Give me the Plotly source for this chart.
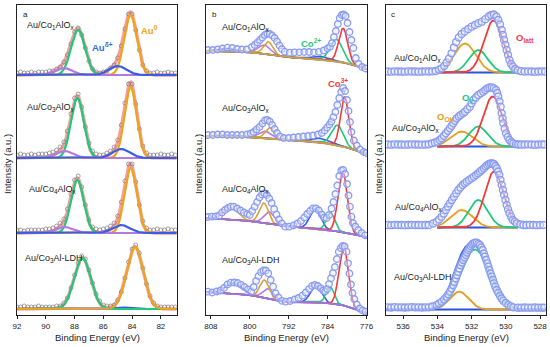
import numpy as np
import plotly.graph_objects as go

FONT = "Arial, Liberation Sans, sans-serif"
W, H = 550, 347

# ---------------- colours ----------------
GREEN, ORANGE, BLUE, PURPLE = "#1fc97c", "#eea41a", "#3a5de6", "#b57ae2"
SALMON, RED = "#f5a0a0", "#f23c3c"
MK_EDGE, MK_FILL = "#8a9bf2", "rgba(230,234,255,0.45)"

# ================= Panel a : Au 4f =================
A_LABELS = ["Au/Co<sub>1</sub>AlO<sub>x</sub>", "Au/Co<sub>3</sub>AlO<sub>x</sub>",
            "Au/Co<sub>4</sub>AlO<sub>x</sub>", "Au/Co<sub>3</sub>Al-LDH"]
A_OFFSET = [240, 157, 82, 6]
A_E = np.round(np.arange(92.0, 80.99, -0.25), 2)
A_MEAS_1 = [2,3,2,2,3,2,3,3,3,4,4,6,8,13,20,31,43,47,40,27,14,6,3,2,3,4,7,10,17,29,46,61,61,45,25,10,4,2,2,3,2,2,3,2,2]
A_MEAS_2 = [3,4,3,3,4,3,4,4,4,5,6,8,11,16,27,44,60,64,51,31,15,7,4,3,3,5,7,11,18,33,55,74,74,54,29,12,5,3,3,3,4,3,3,4,3]
A_MEAS_3 = [3,3,2,3,3,3,3,3,4,4,5,7,10,14,24,39,53,57,46,28,13,6,4,3,4,5,7,10,17,31,52,69,69,51,28,12,5,3,3,4,3,3,4,3,3]
A_MEAS_4 = [2,2,3,2,2,2,3,2,2,2,2,3,3,6,11,21,34,46,53,50,39,26,15,8,4,3,3,4,9,17,31,47,60,64,56,41,25,13,6,3,2,2,2,2,2]
A_MEAS = [A_MEAS_1, A_MEAS_2, A_MEAS_3, A_MEAS_4]
# fitted peaks (centre eV, height, FWHM eV)
A_AU0_72_C, A_AU0_72_H, A_AU0_72_W = [84.1, 84.1, 84.1, 83.8], [60, 71, 65, 62], [1.05, 1.0, 1.0, 1.35]
A_AU0_52_C, A_AU0_52_H, A_AU0_52_W = [87.75, 87.8, 87.8, 87.45], [45, 60, 53, 51], [1.15, 1.05, 1.05, 1.35]
A_AUD_72_C, A_AUD_72_H, A_AUD_72_W = [85.0, 84.75, 84.75, 84.8], [9, 9, 8, 1.5], [1.4, 1.4, 1.4, 1.5]
A_AUD_52_C, A_AUD_52_H, A_AUD_52_W = [88.75, 88.7, 88.7, 88.5], [7, 7, 6, 1], [1.4, 1.4, 1.4, 1.5]

# ================= Panel b : Co 2p =================
B_OFFSET = [265, 180, 98, 23]
B_E_1 = [808.6,807.6,806.6,805.6,804.6,803.6,802.6,801.6,800.6,799.6,799.0,798.4,797.9,797.4,796.9,796.4,795.9,795.4,794.9,794.4,
         793.9,793.4,792.8,791.8,790.8,789.8,788.8,787.8,786.8,785.8,784.8,784.0,783.5,783.1,782.7,782.3,781.9,781.5,781.1,780.7,
         780.3,779.9,779.5,779.1,778.7,778.2,777.6,776.9,776.2]
B_I_1 = [0,0,0.5,1.5,2.3,2,1,0.5,0.5,3,5,7.5,10,12.5,15,16.5,16,14.5,12,8.5,
         4.5,1,-1.7,-2.7,-2.3,-2.3,-2,-2,-2.3,-1.8,-0.5,1.5,3.3,7,13,19,26,32,35,35.5,
         34,27,18,10,2,-8,-14,-17,-18.5]
B_E_2 = [808.6,807.6,806.6,805.6,804.6,803.6,802.6,801.6,800.6,799.8,799.2,798.6,798.0,797.4,796.9,796.4,795.9,795.4,794.9,
         794.4,793.8,793.0,792.0,791.0,790.0,789.0,788.0,787.0,786.0,785.2,784.6,784.1,783.6,783.2,782.8,782.4,782.0,781.6,781.2,
         780.8,780.4,780.0,779.7,779.4,779.1,778.6,778.0,777.3,776.6,776.0]
B_I_2 = [0,0,0.5,0.5,0,0,0,0,0.5,1.5,3,5.5,8,11.5,14.5,15,13.5,10,6,
         2,-1.5,-3,-3,-2.5,-2,-1.5,-1,-0.5,0.5,2,4.5,7.5,10.5,13.5,18,23,30,37,43,
         47,44,35,24,13,3,-5.5,-10.5,-14.5,-17,-18]
B_E_3 = [808.6,807.8,807.0,806.3,805.7,805.1,804.5,803.9,803.3,802.6,801.9,801.2,800.5,800.0,799.5,799.0,798.5,798.0,797.5,797.0,
         796.5,796.0,795.5,795.0,794.5,794.0,793.4,792.7,791.9,791.0,790.2,789.5,788.8,788.2,787.6,787.0,786.4,785.8,785.2,784.7,
         784.2,783.7,783.2,782.8,782.4,782.0,781.6,781.2,780.8,780.4,780.0,779.7,779.4,779.1,778.8,778.3,777.7,777.0,776.3]
B_I_3 = [0,0.3,0.7,1.5,4.5,7,9,10.3,10.3,8.5,6.5,4.5,3,2,6,10.3,15,19.5,22.5,23.7,
         22,18.5,14,8,2.5,-2.5,-6.5,-9.7,-9.7,-8.5,-6.5,-4,-0.5,3,6,8.7,8.7,6.5,2.5,-0.5,
         -1,2,8.5,15,23,31.5,41,46.5,47,43,33,21.5,10.3,0.3,-6,-9.5,-13,-16,-18.3]
B_E_4 = [808.6,807.7,806.8,806.0,805.3,804.6,803.9,803.2,802.5,801.8,801.1,800.4,799.7,799.2,798.7,798.2,797.7,797.2,796.7,796.2,
         795.7,795.2,794.7,794.1,793.4,792.6,791.7,790.8,790.0,789.2,788.5,787.8,787.2,786.6,786.0,785.4,784.9,784.5,784.1,783.7,
         783.3,782.9,782.5,782.1,781.7,781.3,780.9,780.5,780.1,779.8,779.5,779.2,778.9,778.5,778.0,777.4,776.8,776.2]
B_I_4 = [0.3,-0.5,0.5,1.5,4,7.5,9.3,9.5,9,7.2,5,2.5,0.5,5,11,16,19.8,21.5,21.5,18.7,
         12,5.3,-1.3,-5.5,-8.8,-9.7,-9,-7.5,-6,-3.7,-0.5,3,6,7,6,3.7,1.5,0.5,3,8,
         13.7,19,25,33,40.3,44,46,45.5,40.3,28.7,18.5,7.5,-1,-7,-12.5,-16.5,-18.5,-19.7]
B_E = [B_E_1, B_E_2, B_E_3, B_E_4]
B_I = [B_I_1, B_I_2, B_I_3, B_I_4]
B_BG_E = [809, 800, 793, 786, 781, 775.9]
B_BG_1 = [-1, -2, -7, -9, -12, -19]
B_BG_2 = [-1, -2, -5, -7, -11, -19]
B_BG_3 = [-1, -4, -9, -12, -15, -20]
B_BG_4 = [0, -3, -10, -10, -13, -21]
B_BG = [B_BG_1, B_BG_2, B_BG_3, B_BG_4]
B_CO3_32_C, B_CO3_32_H, B_CO3_32_W = [780.8, 780.5, 780.9, 780.7], [34, 50, 61, 60], [2.2, 2.0, 2.2, 2.2]
B_CO2_32_C, B_CO2_32_H, B_CO2_32_W = [782.2, 782.0, 783.4, 783.5], [22, 20, 18, 17], [3.0, 2.8, 2.0, 1.9]
B_SAT1_C, B_SAT1_H, B_SAT1_W = [785.5, 785.5, 786.5, 786.4], [3, 4, 20, 16], [4, 4, 2.6, 2.6]
B_CO3_12_C, B_CO3_12_H, B_CO3_12_W = [796.2, 795.9, 797.1, 797.0], [13, 11, 20, 18], [2.3, 2.2, 2.2, 2.2]
B_CO2_12_C, B_CO2_12_H, B_CO2_12_W = [797.0, 796.8, 796.0, 796.2], [9, 7, 12, 10], [3.0, 3.0, 2.6, 2.6]
B_SAT2_C, B_SAT2_H, B_SAT2_W = [804.6, 804.5, 803.9, 803.3], [3, 1.5, 12, 11], [4, 4, 3.5, 3.8]

# ================= Panel c : O 1s =================
C_OFFSET = [242.5, 168.5, 87.5, 5.5]
C_E_1 = [536.9,536.7,536.5,536.3,536.1,535.9,535.7,535.5,535.3,535.1,534.9,534.7,534.5,534.3,534.1,533.9,533.75,533.6,533.46,533.32,
         533.17,533.03,532.9,532.75,532.58,532.4,532.2,532.0,531.8,531.6,531.4,531.2,531.0,530.85,530.7,530.55,530.44,530.34,530.24,530.17,
         530.1,530.02,529.95,529.87,529.79,529.69,529.58,529.45,529.3,529.1,528.9,528.7,528.5,528.3,528.1,527.9,527.7]
C_I_1 = [1,0.8,1.2,1,1,0.8,1.2,1,1,0.8,1,1.2,1,1.2,1.5,2.8,4.2,6.5,10,14,
         19.2,25,30.5,35,38.5,41,43.5,45.8,47.5,49.3,50.8,53.3,56,57.5,58,56,52.5,48,42.5,37.5,
         32.5,27.5,22.5,17.5,12.5,8.5,5.8,3.5,2.2,1.3,1,1.2,1,0.8,1,1.2,1]
C_E_2 = [536.9,536.7,536.5,536.3,536.1,535.9,535.7,535.5,535.3,535.1,534.9,534.7,534.5,534.32,534.15,534.0,533.87,533.75,533.62,533.5,
         533.38,533.27,533.17,533.07,532.97,532.87,532.75,532.64,532.5,532.39,532.25,532.1,532.0,531.9,531.75,531.61,531.46,531.32,531.2,531.08,
         530.95,530.82,530.7,530.57,530.5,530.44,530.37,530.3,530.24,530.19,530.15,530.07,529.99,529.89,529.79,529.67,529.56,529.4,529.27,529.1,
         528.9,528.7,528.5,528.3,528.1,527.9,527.75]
C_I_2 = [2,1.8,2.2,2,2,1.8,2,2.2,2,2,1.8,2,2.2,3.2,4,4.8,6.5,8.2,10.7,13.2,
         15.7,18.2,20.7,23.2,25.7,28.2,30,31.5,33.2,34.8,37.3,39.8,43.2,46.5,49,51.5,53.2,54.8,56.5,58.2,
         59,59.2,58.2,56.5,53.5,49.8,45,39.8,33.2,28,23.2,18,13.2,9.5,6.5,4.5,3.2,2.3,2,2,
         2,2.2,2,1.8,2,2.2,2]
C_E_3 = [536.9,536.7,536.5,536.3,536.1,535.9,535.7,535.5,535.3,535.1,534.9,534.7,534.5,534.25,534.04,533.9,533.75,533.62,533.5,533.38,
         533.27,533.15,533.03,532.9,532.78,532.65,532.52,532.4,532.29,532.15,532.0,531.87,531.74,531.62,531.51,531.4,531.28,531.18,531.08,530.98,
         530.88,530.78,530.69,530.61,530.53,530.45,530.38,530.31,530.24,530.17,530.1,530.02,529.95,529.87,529.79,529.69,529.59,529.47,529.36,529.15,
         528.97,528.8,528.6,528.4,528.2,528.0,527.8]
C_I_3 = [2.5,2.3,2.7,2.5,2.5,2.3,2.5,2.7,2.5,2.5,2.3,2.5,2.5,4,5.8,8,10.8,14,17.5,21,
         24.2,27.5,30.8,34.2,37.5,40,42.5,44.2,45.8,47.5,49.2,50.8,52.5,54.2,55.8,57.5,59.2,61,62.5,63.5,
         64.2,64,63.5,61.5,59.2,56,52.5,47.5,42.5,37.5,32.5,27.5,22.5,18.3,14.2,10.8,7.5,5.8,4.2,3.2,
         2.5,2.5,2.7,2.5,2.3,2.5,2.5]
C_E_4 = [536.9,536.7,536.5,536.3,536.1,535.9,535.7,535.5,535.3,535.1,534.9,534.7,534.5,534.3,534.04,533.9,533.75,533.6,533.46,533.36,
         533.27,533.17,533.07,532.99,532.91,532.85,532.78,532.71,532.64,532.56,532.49,532.41,532.33,532.26,532.19,532.12,532.05,531.97,531.9,531.8,
         531.7,531.6,531.51,531.43,531.35,531.28,531.22,531.15,531.08,531.02,530.96,530.89,530.82,530.75,530.69,530.61,530.53,530.44,530.34,530.25,
         530.15,530.0,529.85,529.7,529.56,529.3,529.1,528.9,528.7,528.5,528.3,528.1,527.9,527.75]
C_I_4 = [2.2,2,2.4,2.2,2.2,2,2.2,2.4,2.2,2.2,2,2.2,2.2,3,4.5,6,7.8,10.3,12.8,15.3,
         17.8,21,24.5,27.8,31.2,34.5,37.8,41,44.5,47,49.5,52,54.5,57,59.5,61.5,63.5,65,66.2,66.8,
         66.8,65.8,64.5,62,59.5,56,52.8,49.5,46.2,42.8,39.5,36,32.8,29.5,26.2,22.8,19.5,16.5,13.5,11,
         8.8,6.5,4.5,3.2,2.2,1.8,1.8,2,1.8,1.8,2,1.8,1.8,1.8]
C_E = [C_E_1, C_E_2, C_E_3, C_E_4]
C_I = [C_I_1, C_I_2, C_I_3, C_I_4]
C_LATT_C, C_LATT_H, C_LATT_W = [530.73, 530.77, 530.69, 530.7], [52, 50, 56, 0], [1.3, 1.3, 1.3, 1.3]
C_OV_C, C_OV_H, C_OV_W = [531.61, 531.61, 531.61, 531.8], [22.5, 20, 27.5, 60], [1.3, 1.3, 1.3, 2.0]
C_OOH_C, C_OOH_H, C_OOH_W = [532.39, 532.58, 532.58, 532.72], [29, 15, 17.5, 17.8], [1.5, 1.5, 1.5, 1.3]
C_FIT_RANGE = [534.0, 529.3]


def gauss(E, c, h, w):
    return h * np.exp(-4 * np.log(2) * ((E - c) / w) ** 2)


def line(fig, x, y, color, width, ax):
    fig.add_trace(go.Scatter(x=x, y=y, mode="lines", line=dict(color=color, width=width),
                             xaxis="x" + ax, yaxis="y" + ax, hoverinfo="skip"))


fig = go.Figure()

# ---- panel a ----
Ea = np.linspace(92.0, 80.9, 700)
for i in range(4):
    off = A_OFFSET[i]
    comps = {
        "g": (gauss(Ea, A_AU0_52_C[i], A_AU0_52_H[i], A_AU0_52_W[i]), GREEN),
        "o": (gauss(Ea, A_AU0_72_C[i], A_AU0_72_H[i], A_AU0_72_W[i]), ORANGE),
        "p": (gauss(Ea, A_AUD_52_C[i], A_AUD_52_H[i], A_AUD_52_W[i]), PURPLE),
        "b": (gauss(Ea, A_AUD_72_C[i], A_AUD_72_H[i], A_AUD_72_W[i]), BLUE),
    }
    env = off + sum(v[0] for v in comps.values())
    line(fig, Ea, env, SALMON, 3.4, "")
    fig.add_trace(go.Scatter(x=A_E, y=off + np.array(A_MEAS[i]), mode="markers",
                             marker=dict(symbol="circle-open", size=4, color="#7a7a7a", line=dict(width=0.7)),
                             xaxis="x", yaxis="y"))
    order = ["g", "o", "p", "b"] if i < 3 else ["b", "p", "g", "o"]
    for k in order:
        line(fig, Ea, off + comps[k][0], comps[k][1], 2.2, "")

# ---- panel b ----
Eb = np.linspace(809.0, 775.9, 700)
B_SAT2_COL = [BLUE, BLUE, "#dca648", BLUE]
B_BG_COL = ["#c6a24a", "#c6a24a", "#a073e0", "#a073e0"]
for i in range(4):
    off = B_OFFSET[i]
    bg = np.interp(Eb, B_BG_E[::-1], B_BG[i][::-1])
    comps = [
        (gauss(Eb, B_SAT2_C[i], B_SAT2_H[i], B_SAT2_W[i]), B_SAT2_COL[i]),
        (gauss(Eb, B_CO2_12_C[i], B_CO2_12_H[i], B_CO2_12_W[i]), PURPLE),
        (gauss(Eb, B_CO3_12_C[i], B_CO3_12_H[i], B_CO3_12_W[i]), "#dca238"),
        (gauss(Eb, B_SAT1_C[i], B_SAT1_H[i], B_SAT1_W[i]), BLUE),
        (gauss(Eb, B_CO2_32_C[i], B_CO2_32_H[i], B_CO2_32_W[i]), GREEN),
        (gauss(Eb, B_CO3_32_C[i], B_CO3_32_H[i], B_CO3_32_W[i]), RED),
    ]
    for y, col in comps:
        line(fig, Eb, off + bg + y, col, 1.6, "2")
    line(fig, Eb, off + bg, B_BG_COL[i], 1.8, "2")
    fig.add_trace(go.Scatter(x=B_E[i], y=off + np.array(B_I[i]), mode="markers",
                             marker=dict(symbol="circle", size=6.5, color=MK_FILL,
                                         line=dict(color=MK_EDGE, width=1.3)),
                             xaxis="x2", yaxis="y2"))

# ---- panel c ----
Ec_full = np.linspace(537.0, 527.6, 500)
Ec = np.linspace(C_FIT_RANGE[0], C_FIT_RANGE[1], 400)
for i in range(4):
    off = C_OFFSET[i]
    comps = [
        (C_OOH_C[i], C_OOH_H[i], C_OOH_W[i], "#e6a020"),
        (C_OV_C[i], C_OV_H[i], C_OV_W[i], GREEN),
        (C_LATT_C[i], C_LATT_H[i], C_LATT_W[i], RED),
    ]
    if i == 3:
        env = off + sum(gauss(Ec_full, c, h, w) for c, h, w, _ in comps)
        line(fig, Ec_full, env, "#2f6fe0", 1.8, "3")
        line(fig, Ec_full, off + 0 * Ec_full, "#2a55d8", 1.8, "3")
    else:
        line(fig, Ec, off + 0 * Ec, "#2a55d8", 2.0, "3")
    for c, h, w, col in comps:
        if h > 0:
            line(fig, Ec, off + gauss(Ec, c, h, w), col, 1.8, "3")
    fig.add_trace(go.Scatter(x=C_E[i], y=off + np.array(C_I[i]), mode="markers",
                             marker=dict(symbol="circle", size=7, color=MK_FILL,
                                         line=dict(color=MK_EDGE, width=1.3)),
                             xaxis="x3", yaxis="y3"))

# ---------------- axes ----------------
YDOM = [32 / H, 342 / H]
common_x = dict(ticks="outside", ticklen=3, tickwidth=1, tickcolor="#222", showline=True, mirror=True,
                linecolor="#222", linewidth=1, showgrid=False, zeroline=False,
                tickfont=dict(size=8, color="#222", family=FONT), automargin=False)
common_y = dict(range=[0, 310], showticklabels=False, ticks="", showline=True, mirror=True,
                linecolor="#222", linewidth=1, showgrid=False, zeroline=False, domain=YDOM, automargin=False)
fig.update_layout(
    xaxis=dict(domain=[17 / W, 176.7 / W], range=[92.0, 80.9], tickvals=[92, 90, 88, 86, 84, 82], anchor="y", **common_x),
    yaxis=dict(anchor="x", **common_y),
    xaxis2=dict(domain=[206 / W, 367 / W], range=[809.0, 775.9], tickvals=[808, 800, 792, 784, 776], anchor="y2", **common_x),
    yaxis2=dict(anchor="x2", **common_y),
    xaxis3=dict(domain=[386 / W, 545.7 / W], range=[537.0, 527.67], tickvals=[536, 534, 532, 530, 528], anchor="y3", **common_x),
    yaxis3=dict(anchor="x3", **common_y),
)

# ---------------- text ----------------
ann = []


def txt(s, x, y, color="#222", size=9, xa="left", bold=False, angle=0):
    if bold:
        s = "<b>" + s + "</b>"
    ann.append(dict(text=s, x=x / W, y=1 - y / H, xref="paper", yref="paper", showarrow=False,
                    xanchor=xa, yanchor="middle", textangle=angle,
                    font=dict(size=size, color=color, family=FONT)))


txt("a", 25, 15, size=8, xa="center")
txt("b", 214, 15, size=8, xa="center")
txt("c", 393, 15, size=8, xa="center")
for lab, (x, y) in zip(A_LABELS, [(25, 25), (25, 107), (27, 190), (23, 258)]):
    txt(lab, x, y)
for lab, (x, y) in zip(A_LABELS, [(220, 28), (220, 108), (220, 190), (220, 260)]):
    txt(lab, x, y)
for lab, (x, y) in zip(A_LABELS, [(392, 58), (390, 128), (393, 207), (392, 277)]):
    txt(lab, x, y)
txt("Au<sup>0</sup>", 149, 30, ORANGE, 9.5, "center", True)
txt("Au<sup>δ+</sup>", 102, 47, "#2f6fd6", 9.5, "center", True)
txt("Co<sup>2+</sup>", 311, 43, GREEN, 9.5, "center", True)
txt("Co<sup>3+</sup>", 338, 83, RED, 9.5, "center", True)
txt("O<sub>latt</sub>", 525, 38, RED, 9.5, "center", True)
txt("O<sub>v</sub>", 467, 98, GREEN, 9.5, "center", True)
txt("O<sub>OH</sub>", 446, 117, "#e6a020", 9.5, "center", True)
for x in [7, 198, 378]:
    txt("Intensity (a.u.)", x, 164, size=9.5, xa="center", angle=-90)
for x in [97, 286.5, 466]:
    txt("Binding Energy (eV)", x, 337, size=9.5, xa="center")

fig.update_layout(
    width=W, height=H, margin=dict(l=0, r=0, t=0, b=0),
    paper_bgcolor="white", plot_bgcolor="white", showlegend=False,
    font=dict(family=FONT), annotations=ann,
)

fig.write_html("out.html", config={"displayModeBar": False},
               post_script="document.body.style.margin='0';document.body.style.overflow='hidden';")
